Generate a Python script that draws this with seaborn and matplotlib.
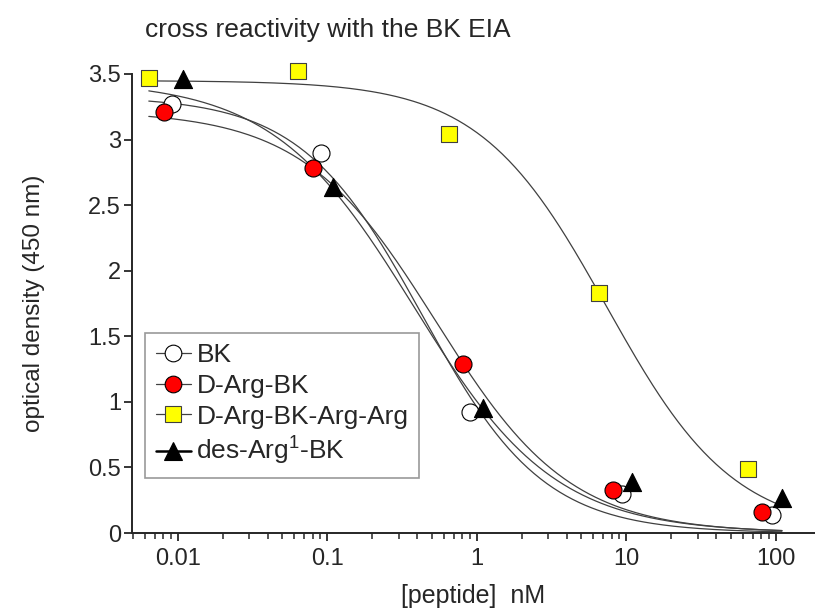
import numpy as np
import pandas as pd
import seaborn as sns
import matplotlib.pyplot as plt
from matplotlib.lines import Line2D

# data
names = ['BK', 'D-Arg-BK', 'D-Arg-BK-Arg-Arg', 'des-Arg$^{1}$-BK']
conc_bk = [0.0092, 0.091, 0.90, 9.4, 95]
od_bk = [3.27, 2.90, 0.92, 0.30, 0.14]
conc_darg = [0.0081, 0.080, 0.81, 8.2, 81]
od_darg = [3.21, 2.78, 1.29, 0.33, 0.16]
conc_dargarg = [0.0064, 0.064, 0.65, 6.6, 65]
od_dargarg = [3.47, 3.52, 3.04, 1.83, 0.49]
conc_desarg = [0.0109, 0.11, 1.1, 11, 110]
od_desarg = [3.46, 2.64, 0.95, 0.39, 0.27]

# sigmoid fit parameters (top, EC50, hill slope), bottom = 0
fit_top = [3.33, 3.22, 3.45, 3.45]
fit_ec50 = [0.43, 0.535, 7.4, 0.38]
fit_hill = [1.07, 0.97, 1.02, 0.92]

concs = [conc_bk, conc_darg, conc_dargarg, conc_desarg]
ods = [od_bk, od_darg, od_dargarg, od_desarg]
fills = ['white', '#ff0000', '#ffff00', 'black']
markers = ['o', 'o', 's', '^']
sizes = [150, 150, 130, 170]

sns.set_style('ticks')
plt.rcParams['font.family'] = ['Liberation Sans', 'DejaVu Sans']
plt.rcParams['mathtext.default'] = 'regular'

fig = plt.figure(figsize=(8.15, 6.12), dpi=100)
ax = fig.add_axes([132 / 815, 79 / 612, 683 / 815, 459 / 612])

all_x = np.concatenate(concs)
xfit = np.logspace(np.log10(all_x.min()), np.log10(all_x.max()), 300)

# fitted curves
for i in range(4):
    yfit = fit_top[i] / (1 + (xfit / fit_ec50[i]) ** fit_hill[i])
    sns.lineplot(x=xfit, y=yfit, ax=ax, color='#404040', lw=0.9, zorder=2)

# data points
for i in range(4):
    df = pd.DataFrame({'conc': concs[i], 'od': ods[i]})
    sns.scatterplot(data=df, x='conc', y='od', ax=ax, marker=markers[i], s=sizes[i],
                    color=fills[i], edgecolor='black' if i != 2 else '#404040',
                    linewidth=0.8, zorder=3, clip_on=False)

ax.set_xscale('log')
ax.set_xlim(0.00494, 183)
ax.set_ylim(0, 3.5)
ax.set_yticks(np.arange(0, 3.51, 0.5))
ax.set_yticklabels(['0', '0.5', '1', '1.5', '2', '2.5', '3', '3.5'])
ax.set_xticks([0.01, 0.1, 1, 10, 100])
ax.set_xticklabels(['0.01', '0.1', '1', '10', '100'])
ax.tick_params(axis='both', which='major', labelsize=17, length=6, width=1.3, pad=2)
ax.tick_params(axis='x', which='major', pad=5)
ax.tick_params(axis='x', which='minor', length=4, width=1.1)
ax.tick_params(axis='y', which='minor', length=0)
sns.despine(ax=ax)
for s in ['left', 'bottom']:
    ax.spines[s].set_linewidth(1.4)

ax.set_xlabel('[peptide]  nM', fontsize=18, labelpad=10)
ax.set_ylabel('optical density (450 nm)', fontsize=17.5, labelpad=31)
fig.text(145 / 815, 1 - 30 / 612, 'cross reactivity with the BK EIA', fontsize=19,
         ha='left', va='center')

handles = []
for i in range(4):
    handles.append(Line2D([0], [0], color='#404040' if i < 3 else 'black',
                          lw=0.9 if i < 3 else 1.8, marker=markers[i],
                          markersize=12 if i < 3 else 12.5, markerfacecolor=fills[i],
                          markeredgecolor='black' if i != 2 else '#404040',
                          markeredgewidth=0.8))
leg = ax.legend(handles, names, loc='upper left', bbox_to_anchor=(0.019, 0.436),
                borderaxespad=0, fontsize=19, frameon=True, fancybox=False,
                edgecolor='#999999', framealpha=1, handlelength=1.35,
                handletextpad=0.2, labelspacing=0.25, borderpad=0.4)
leg.get_frame().set_linewidth(1.2)

fig.savefig('out.png', dpi=100)
